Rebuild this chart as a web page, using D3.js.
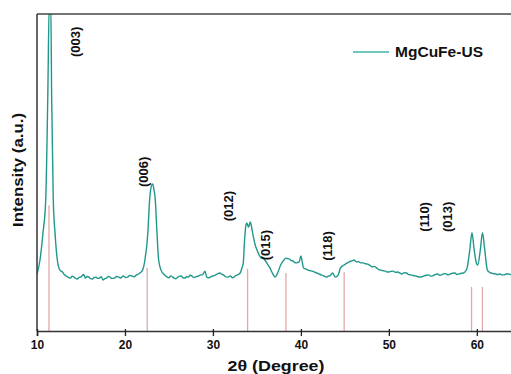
<!DOCTYPE html>
<html>
<head>
<meta charset="utf-8">
<script src="https://cdn.jsdelivr.net/npm/d3@7"></script>
<style>
  body { margin: 0; background: #fff; }
  text { font-family: Arial, "Liberation Sans", sans-serif; font-weight: bold; fill: #111; }
</style>
</head>
<body>
<div id="chart"></div>
<script>
// XRD pattern (2theta in degrees, intensity in arbitrary units)
let twoTheta = [
  10.0, 10.34, 10.68, 10.99, 11.22, 11.40, 11.56, 11.67, 11.85, 12.05, 12.31, 12.61,
  12.9, 13.1, 13.3, 13.5, 13.8, 14.0, 14.2, 14.4, 14.6, 14.8, 15.0, 15.15, 15.3, 15.5,
  15.7, 15.9, 16.1, 16.3, 16.5, 16.7, 16.9, 17.1, 17.3, 17.5, 17.7, 17.9, 18.1, 18.3,
  18.55, 18.8, 19.05, 19.3, 19.55, 19.8, 20.05, 20.3, 20.55, 20.8, 21.05, 21.3, 21.5,
  21.7, 22.0, 22.27, 22.6, 22.8, 23.0, 23.15, 23.3, 23.45, 23.64, 23.83, 24.1, 24.4,
  24.6, 24.8, 25.0, 25.2, 25.4, 25.6, 25.8, 26.0, 26.2, 26.4, 26.6, 26.8, 27.0, 27.2,
  27.4, 27.6, 27.8, 28.0, 28.2, 28.4, 28.6, 28.8, 29.1, 29.3, 29.5, 29.7, 29.9, 30.1,
  30.3, 30.5, 30.8, 31.0, 31.2, 31.4, 31.6, 31.8, 32.0, 32.2, 32.4, 32.6, 32.8,
  33.1, 33.3, 33.45, 33.6, 33.75, 33.85, 34.05, 34.25, 34.45, 34.6, 34.8, 35.0, 35.25,
  35.5, 35.7, 35.9, 36.2, 36.4, 36.6, 36.85, 37.05, 37.4, 37.7, 38.0, 38.3, 38.5, 38.7,
  38.9, 39.1, 39.3, 39.5, 39.8, 40.0, 40.15, 40.3, 40.55, 40.8, 41.05, 41.3, 41.55, 41.8,
  42.05, 42.3, 42.6, 42.9, 43.1, 43.3, 43.6, 43.9, 44.2, 44.5, 44.9, 45.1, 45.3, 45.55,
  45.8, 46.05, 46.3, 46.55, 46.8, 47.1, 47.35, 47.6, 47.85, 48.1, 48.35, 48.6, 48.85,
  49.1, 49.35, 49.6, 49.8, 50.0, 50.25, 50.5, 50.75, 51.0, 51.25, 51.5, 51.75, 52.0,
  52.25, 52.5, 52.75, 53.0, 53.25, 53.5, 53.75, 54.0, 54.25, 54.5, 54.75, 55.0, 55.25,
  55.5, 55.75, 56.0, 56.25, 56.5, 56.75, 57.0, 57.25, 57.5, 57.75, 58.0, 58.25, 58.5,
  58.7, 58.9, 59.2, 59.45, 59.7, 59.9, 60.1, 60.4, 60.65, 60.9, 61.2, 61.4, 61.6, 61.85,
  62.1, 62.35, 62.6, 62.85, 63.1, 63.35, 63.6, 63.8, 64.0
];
let intensity = [
  180, 224, 309, 413, 729, 1040, 1040, 729, 413, 309, 224, 192,
  186, 178, 174, 170, 167, 173, 170, 166, 164, 169, 170, 175, 178, 167,
  172, 170, 165, 164, 169, 170, 166, 167, 171, 161, 165, 167, 172, 170,
  166, 167, 172, 170, 167, 174, 169, 170, 175, 174, 171, 177, 179,
  183, 192, 224, 309, 413, 457, 464, 445, 413, 309, 224, 192, 180,
  174, 170, 168, 174, 171, 167, 165, 170, 173, 174, 168, 167, 171, 170,
  176, 174, 169, 170, 172, 174, 177, 177, 189, 170, 168, 170, 173, 174,
  177, 180, 183, 179, 177, 172, 170, 171, 174, 168, 170, 175, 177,
  183, 199, 215, 287, 334, 341, 328, 344, 319, 297, 272, 256, 240,
  230, 229, 224, 211, 203, 192, 178, 170, 186, 208, 221, 230, 228, 227,
  222, 221, 216, 215, 218, 237, 218, 199, 196, 192, 190, 189, 186, 183,
  180, 177, 174, 170, 173, 174, 183, 170, 174, 199, 208, 212, 215, 219,
  221, 224, 218, 219, 215, 215, 212, 211, 207, 202, 204, 199, 194,
  192, 190, 189, 186, 186, 188, 189, 185, 186, 183, 180, 184, 183,
  178, 177, 175, 174, 172, 170, 171, 174, 176, 177, 173, 174, 178,
  180, 176, 177, 181, 180, 177, 180, 182, 183, 178, 180, 182, 183,
  188, 199, 256, 310, 256, 220, 208, 256, 310, 256, 192, 186, 183, 181,
  180, 178, 180, 177, 177, 180, 180, 178, 180
];

// reference pattern sticks
let refTheta = [11.36, 22.53, 33.94, 38.3, 44.92, 59.4, 60.64];
let refIntensity = [397, 199, 196, 183, 186, 139, 139];

// hkl annotations (label centre in data coords)
let hklLabels = ['(003)', '(006)', '(012)', '(015)', '(118)', '(110)', '(013)'];
let hklTheta = [14.3, 22.05, 31.7, 35.9, 42.95, 53.98, 56.6];
let hklIntensity = [912, 502, 394, 271, 268, 360, 360];

let xTicks = [10, 20, 30, 40, 50, 60];
let seriesName = 'MgCuFe-US';

let W = 511, H = 374;
let margin = { top: 14, left: 37, right: -1, bottom: 43 };

let svg = d3.select('#chart').append('svg')
  .attr('width', W)
  .attr('height', H);

let xScale = d3.scaleLinear()
  .domain([10, 64])
  .range([margin.left, W - margin.right]);

let yScale = d3.scaleLinear()
  .domain([0, 1000])
  .range([H - margin.bottom, margin.top]);

let data = twoTheta.map((t, i) => ({ t: t, v: intensity[i] }));

svg.append('clipPath').attr('id', 'plotClip')
  .append('rect')
  .attr('x', margin.left)
  .attr('y', margin.top)
  .attr('width', W - margin.left)
  .attr('height', H - margin.bottom - margin.top);

// reference sticks
svg.append('g')
  .selectAll('line')
  .data(refTheta)
  .enter()
  .append('line')
  .attr('x1', d => xScale(d))
  .attr('x2', d => xScale(d))
  .attr('y1', yScale(0))
  .attr('y2', (d, i) => yScale(refIntensity[i]))
  .attr('stroke', '#e2a9a9')
  .attr('stroke-width', 1.3);

// pattern line
let line = d3.line()
  .curve(d3.curveMonotoneX)
  .x(d => xScale(d.t))
  .y(d => yScale(d.v));

svg.append('path')
  .datum(data)
  .attr('clip-path', 'url(#plotClip)')
  .attr('d', line)
  .attr('fill', 'none')
  .attr('stroke', '#1f978b')
  .attr('stroke-width', 1.4)
  .attr('stroke-linejoin', 'round');

// frame: top and left
svg.append('line')
  .attr('x1', margin.left).attr('x2', W)
  .attr('y1', margin.top).attr('y2', margin.top)
  .attr('stroke', '#444').attr('stroke-width', 1.5);

svg.append('line')
  .attr('x1', margin.left).attr('x2', margin.left)
  .attr('y1', margin.top).attr('y2', yScale(0))
  .attr('stroke', '#333').attr('stroke-width', 1.5);

// x axis
let xAxis = svg.append('g')
  .attr('transform', `translate(0,${yScale(0)})`)
  .call(d3.axisBottom(xScale).tickValues(xTicks).tickSize(5).tickPadding(4).tickFormat(d3.format('d')));

xAxis.select('.domain').attr('stroke', '#333').attr('stroke-width', 1.5);
xAxis.selectAll('.tick line').attr('y1', -2).attr('stroke', '#222').attr('stroke-width', 1.3);
xAxis.selectAll('.tick text')
  .style('font-family', 'Arial, "Liberation Sans", sans-serif')
  .style('font-weight', 'bold')
  .style('font-size', '12px')
  .attr('fill', '#111');

// axis titles
svg.append('text')
  .attr('x', 276)
  .attr('y', 371)
  .attr('text-anchor', 'middle')
  .style('font-size', '15px')
  .attr('textLength', 97)
  .attr('lengthAdjust', 'spacingAndGlyphs')
  .text('2θ (Degree)');

svg.append('text')
  .attr('transform', 'translate(23,170) rotate(-90)')
  .attr('text-anchor', 'middle')
  .style('font-size', '15px')
  .attr('textLength', 114)
  .attr('lengthAdjust', 'spacingAndGlyphs')
  .text('Intensity (a.u.)');

// hkl labels
svg.append('g')
  .selectAll('text')
  .data(hklLabels)
  .enter()
  .append('text')
  .attr('transform', (d, i) => `translate(${xScale(hklTheta[i])},${yScale(hklIntensity[i])}) rotate(-90)`)
  .attr('text-anchor', 'middle')
  .attr('dy', '0.36em')
  .style('font-size', '13px')
  .text(d => d);

// legend
svg.append('line')
  .attr('x1', 353).attr('x2', 389)
  .attr('y1', 52).attr('y2', 52)
  .attr('stroke', '#6fc6bd')
  .attr('stroke-width', 2);

svg.append('text')
  .attr('x', 395)
  .attr('y', 57)
  .style('font-size', '15px')
  .attr('textLength', 88)
  .attr('lengthAdjust', 'spacingAndGlyphs')
  .text(seriesName);
</script>
</body>
</html>
